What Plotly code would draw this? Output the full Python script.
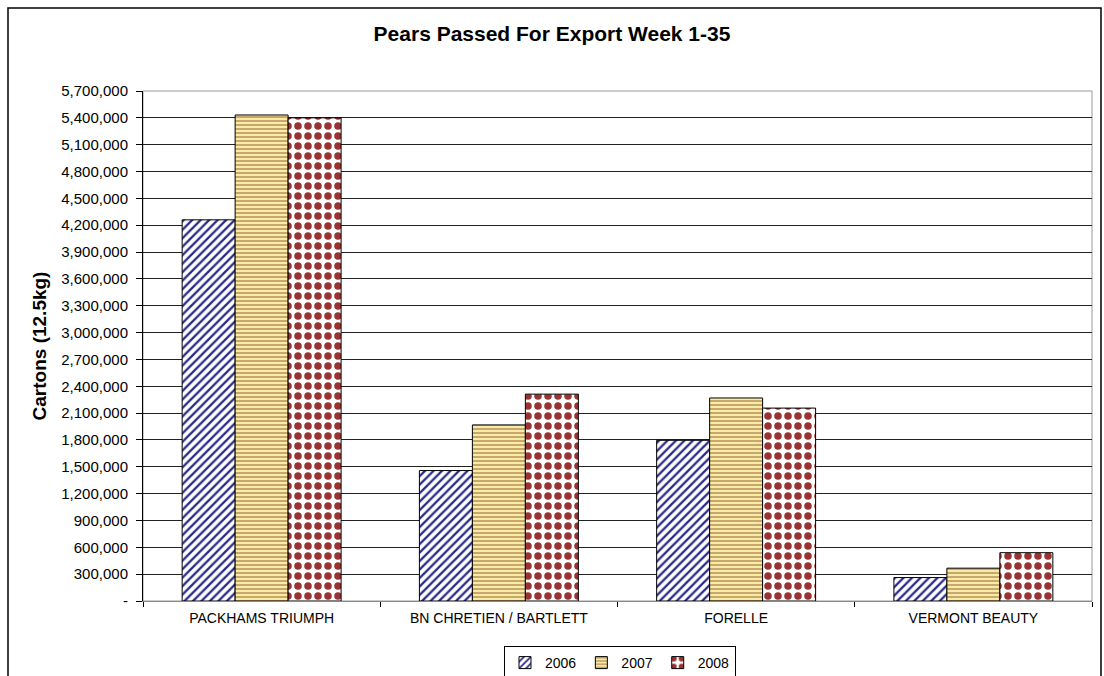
import plotly.graph_objects as go

categories = ["PACKHAMS TRIUMPH", "BN CHRETIEN / BARTLETT", "FORELLE", "VERMONT BEAUTY"]
years = ["2006", "2007", "2008"]
v2006 = [4260000, 1458000, 1796000, 262000]
v2007 = [5432000, 1968000, 2269000, 367000]
v2008 = [5400000, 2312000, 2156000, 540000]
tick_vals = [0, 300000, 600000, 900000, 1200000, 1500000, 1800000, 2100000, 2400000,
             2700000, 3000000, 3300000, 3600000, 3900000, 4200000, 4500000, 4800000,
             5100000, 5400000, 5700000]
tick_text = ["-"] + [f"{v:,}" for v in tick_vals[1:]]

series = [v2006, v2007, v2008]
patterns = [
    dict(shape="/", fgcolor="#2b2b8a", bgcolor="#ffffff", size=6, solidity=0.38, fgopacity=1),
    dict(shape="-", fgcolor="#c2a064", bgcolor="#f8eba8", size=4, solidity=0.45, fgopacity=1),
    dict(shape=".", fgcolor="#993333", bgcolor="#ffffff", size=10, solidity=0.45, fgopacity=1),
]

fig = go.Figure()
for name, vals, pat in zip(years, series, patterns):
    fig.add_trace(go.Bar(
        name=name, x=categories, y=vals,
        marker=dict(color=pat["bgcolor"], pattern=pat,
                    line=dict(color="#000000", width=1)),
    ))

W, H = 1104, 676
L, R, T, B = 143, 12, 91, 75
pw, ph = W - L - R, H - T - B


def px(x):
    return (x - L) / pw


def py(y):
    return (H - B - y) / ph


font_family = "Liberation Sans, Arial, sans-serif"
border_path = "M {a},{b} L {a},{c} L {d},{c} L {d},{b}".format(
    a=px(8), b=py(676), c=py(8), d=px(1101))

fig.update_layout(
    width=W, height=H,
    margin=dict(l=L, r=R, t=T, b=B, autoexpand=False),
    paper_bgcolor="#ffffff", plot_bgcolor="#ffffff",
    font=dict(family=font_family, size=14, color="#000000"),
    barmode="group", bargap=0.33, bargroupgap=0,
    title=dict(text="<b>Pears Passed For Export Week 1-35</b>",
               x=0.5, xanchor="center", y=1 - 34 / H, yanchor="middle",
               font=dict(size=21, family=font_family)),
    showlegend=True,
    legend=dict(orientation="h", x=px(620), xanchor="center", y=py(663), yanchor="middle",
                bordercolor="#000000", borderwidth=1, bgcolor="#ffffff",
                font=dict(size=14), traceorder="normal", itemwidth=30),
    xaxis=dict(showline=True, linecolor="#888888", linewidth=1,
               ticks="outside", ticklen=5, tickcolor="#000000", tickson="boundaries",
               tickfont=dict(size=14), showgrid=False, mirror=False,
               ticklabelstandoff=4),
    yaxis=dict(range=[0, 5700000], tickvals=tick_vals, ticktext=tick_text,
               showline=True, linecolor="#000000", linewidth=1,
               ticks="outside", ticklen=6, tickcolor="#000000",
               showgrid=True, gridcolor="#222222", gridwidth=1,
               tickfont=dict(size=15), zeroline=False, ticklabelstandoff=5,
               title=dict(text="<b>Cartons (12.5kg)</b>", font=dict(size=19), standoff=9)),
    shapes=[
        dict(type="rect", xref="paper", yref="paper", x0=0, x1=1, y0=0, y1=1,
             line=dict(color="#999999", width=1), layer="below"),
        dict(type="path", xref="paper", yref="paper", path=border_path,
             line=dict(color="#000000", width=1.5)),
    ],
)

fig.write_html(
    "out.html",
    config={"displayModeBar": False},
    post_script="document.body.style.margin='0';document.body.style.overflow='hidden';",
)
